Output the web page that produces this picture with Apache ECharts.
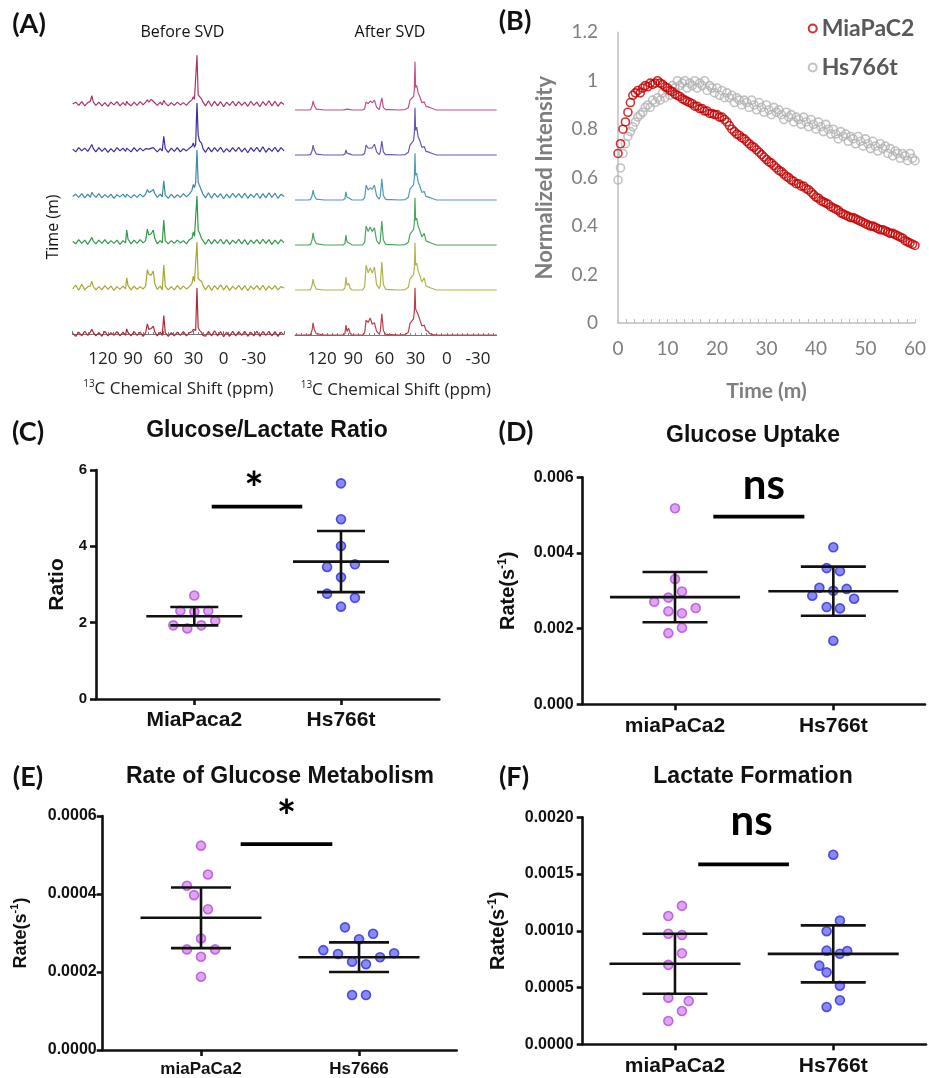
<!DOCTYPE html>
<html><head><meta charset="utf-8">
<script src="https://cdn.jsdelivr.net/npm/echarts@6/dist/echarts.min.js"></script>
<style>html,body{margin:0;padding:0;background:#fff}#c{width:929px;height:1078px}</style>
</head><body><div id="c"></div>
<script>
// ---------- Panel A: 13C spectra (intensity in % of trace spacing) ----------
const ppmBefore = [150,147,144,141,138,135,132.5,131,129.5,127,124,121,118,115,112,109,106,103,100,97.5,96.3,95,92,89,86,83,80,77.5,75.8,74.3,72,69.9,68.5,66,63,61,59.5,58,55,52,49,46,43,40,37,34,31.5,30.1,29,27.8,26.5,25.3,24,22,20.5,18,15,12,9,6,3,0,-3,-6,-9,-12,-15,-18,-21,-24,-27,-30,-33,-36,-39,-42,-45,-48,-51,-54,-57,-60];
const before1 = [0,4,-3,5,-4,3,6,18,4,-3, 4,-4,3,-5,4,-2,5,-4,3,-3, 6,1,-4,4,-3,5,-2,4,9,4, 10,6,9,-3,4,-2,8,2,-4,3, -3,4,-2,3,-3,5,9,16,10,14, 106,20,24,11,4,-4,7,-5,6,-4, 5,-6,4,-3,6,-4,5,-3,4,-5, 6,-3,4,-6,5,-3,7,-4,6,-5, 4,-1];
const before2 = [2,-4,5,-2,4,-3,6,12,3,-4, 5,-3,4,-5,3,-4,5,-2,4,-3, 4,2,-4,5,-3,4,-2,3,6,2, 4,5,2,-4,3,-2,30,3,-5,4, -3,5,-4,3,-2,4,8,15,6,12, 102,33,20,15,3,-5,6,-4,5,-3, 6,-5,3,-4,5,-3,6,-4,4,-6, 5,-3,6,-4,7,-5,4,-3,6,-4, 5,-2];
const before3 = [-1,4,-3,5,-4,4,-3,8,3,-3, 5,-4,3,-3,4,-5,3,-2,4,-3, 4,1,-4,3,-3,4,-2,4,14,8, 10,14,6,-3,4,-2,33,2,-5,4, -4,3,-3,5,-2,4,12,25,18,28, 100,30,26,12,4,-4,7,-5,6,-3, 5,-6,4,-4,6,-3,5,-4,6,-5, 4,-3,6,-5,5,-4,7,-3,6,-5, 4,-1];
const before4 = [1,-4,5,-3,4,-5,4,10,2,-4, 4,-3,5,-4,3,-3,4,-5,3,-2, 26,6,-4,4,-3,5,-2,3,28,15, 18,26,8,-4,3,-2,48,3,-4,3, -3,4,-2,3,-4,5,8,22,12,14, 100,25,20,8,3,-5,6,-4,5,-3, 6,-4,5,-5,4,-3,6,-4,5,-6, 4,-3,5,-4,6,-3,5,-5,4,-4, 5,-2];
const before5 = [-2,6,-5,8,-4,3,4,15,3,-4, 3,-4,5,-3,4,-5,3,-3,4,-2, 22,5,-4,4,-3,3,-2,4,40,30, 28,37,10,-3,4,-4,50,4,-4,3, -4,5,-3,4,-2,3,10,26,14,18, 100,20,22,14,6,-4,6,-5,5,-3, 7,-4,5,-5,4,-3,6,-4,5,-6, 4,-3,5,-4,6,-5,4,-3,5,-4, 3,0];
const before6 = [2,-5,4,-4,6,-3,4,10,4,-4, 3,-5,6,-4,3,-3,5,-4,4,-3, 11,3,-4,5,-3,4,-5,3,22,10, 12,17,5,-4,4,-3,40,3,-5,3, -4,4,-3,5,-4,3,5,10,6,8, 100,14,8,4,-3,-5,6,-4,7,-4, 5,-6,4,-5,6,-4,5,-3,6,-5, 4,-4,6,-5,5,-3,6,-4,5,-5, 4,-2];

const ppmAfter = [146,134,131,129.5,128.6,127.5,125.5,118,100,98,97,96,94.5,93,91,81,79,77.6,75.6,73.7,71.7,69.6,67.5,65,64,62.5,61,59,57,55.5,54,45,40,37,35.4,33.5,32,31.2,30.6,30,29,27.5,25.8,24,21.7,20,17.9,16.5,14.6,13,10,-48];
const after1 = [0,0,1,9,20,10,2,0,0,1, 4,2,3,1,0,0,3,18,14,20, 16,22,6,1,5,27,6,1,1,3, 1,0,1,5,22,18,30,45,107,50, 55,38,29,16,18,8,7,3,4,1, 0,0];
const after2 = [0,0,1,10,22,11,2,0,0,2, 11,4,6,2,0,0,4,22,15,18, 16,24,7,1,6,31,7,1,1,3, 1,0,1,6,22,19,32,48,105,55, 62,40,31,17,19,8,7,3,4,1, 0,0];
const after3 = [0,0,1,10,22,10,2,0,0,3, 18,6,8,3,0,0,5,33,22,27, 24,33,9,2,8,47,10,2,1,4, 1,0,1,6,24,20,34,50,104,55, 60,40,30,17,19,8,7,3,4,1, 0,0];
const after4 = [0,0,1,12,27,12,3,0,0,3, 22,7,9,3,0,0,6,42,30,40, 30,38,10,2,9,53,11,2,1,4, 1,0,1,6,24,20,34,50,105,55, 60,42,31,18,26,9,7,3,4,1, 0,0];
const after5 = [0,0,1,11,24,11,2,0,0,4, 29,10,15,4,0,0,7,55,38,49, 38,51,12,3,10,62,12,2,1,5, 1,0,1,6,24,20,34,50,105,55, 60,42,31,18,27,9,7,3,4,1, 0,0];
const after6 = [0,0,1,12,27,12,3,0,0,3, 22,8,15,4,0,0,5,33,28,38, 24,27,8,2,8,47,10,2,1,4, 1,0,1,6,26,22,36,52,105,58, 60,45,33,20,22,10,8,3,4,1, 0,0];
const ppmLabels = [120,90,60,30,0,-30];

// ---------- Panel B: normalized intensity vs time ----------
const timeMin = [0,0.5,1,1.5,2,2.5,3,3.5,4,4.5,5,5.5,6,6.5,7,7.5,8,8.5,9,9.5,10,10.5,11,11.5,12,12.5,13,13.5,14,14.5,15,15.5,16,16.5,17,17.5,18,18.5,19,19.5,20,20.5,21,21.5,22,22.5,23,23.5,24,24.5,25,25.5,26,26.5,27,27.5,28,28.5,29,29.5,30,30.5,31,31.5,32,32.5,33,33.5,34,34.5,35,35.5,36,36.5,37,37.5,38,38.5,39,39.5,40,40.5,41,41.5,42,42.5,43,43.5,44,44.5,45,45.5,46,46.5,47,47.5,48,48.5,49,49.5,50,50.5,51,51.5,52,52.5,53,53.5,54,54.5,55,55.5,56,56.5,57,57.5,58,58.5,59,59.5,60];
const miaIntensity = [0.70,0.74,0.80,0.83,0.87,0.91,0.94,0.95,0.96,0.95, 0.97,0.98,0.975,0.99,0.985,0.99,1.0,0.99,0.985,0.975, 0.97,0.96,0.955,0.945,0.94,0.935,0.925,0.92,0.915,0.91, 0.905,0.895,0.895,0.885,0.885,0.875,0.875,0.865,0.865,0.86, 0.86,0.85,0.85,0.84,0.83,0.815,0.80,0.79,0.78,0.775, 0.765,0.76,0.75,0.74,0.73,0.725,0.715,0.705,0.695,0.685, 0.675,0.665,0.66,0.65,0.64,0.63,0.625,0.615,0.605,0.60, 0.59,0.585,0.575,0.575,0.565,0.565,0.555,0.55,0.54,0.53, 0.52,0.515,0.505,0.50,0.495,0.49,0.48,0.475,0.47,0.465, 0.455,0.45,0.445,0.44,0.435,0.435,0.43,0.425,0.42,0.415, 0.41,0.405,0.40,0.40,0.395,0.39,0.385,0.385,0.38,0.375, 0.37,0.37,0.365,0.36,0.355,0.35,0.34,0.335,0.33,0.325, 0.32];
const hsIntensity = [0.59,0.64,0.70,0.74,0.77,0.79,0.81,0.83,0.85,0.86, 0.87,0.89,0.90,0.89,0.92,0.91,0.93,0.92,0.95,0.93, 0.96,0.94,0.98,0.97,1.0,0.98,0.99,1.0,0.97,0.99, 0.98,1.0,0.97,0.99,0.98,1.0,0.96,0.98,0.97,0.95, 0.97,0.94,0.96,0.93,0.95,0.93,0.94,0.91,0.93,0.92, 0.90,0.92,0.91,0.89,0.92,0.90,0.88,0.91,0.89,0.87, 0.90,0.88,0.86,0.89,0.87,0.88,0.86,0.84,0.87,0.85, 0.86,0.83,0.85,0.84,0.82,0.85,0.83,0.81,0.84,0.82, 0.80,0.83,0.81,0.79,0.82,0.80,0.78,0.80,0.78,0.76, 0.79,0.77,0.78,0.75,0.77,0.76,0.74,0.77,0.75,0.73, 0.76,0.74,0.72,0.75,0.73,0.71,0.74,0.72,0.73,0.70, 0.72,0.69,0.71,0.70,0.68,0.70,0.69,0.67,0.70,0.68, 0.67];

// ---------- Panels C-F: dot plots [group position, value] ----------
const catC = ['MiaPaca2','Hs766t'];
const catD = ['miaPaCa2','Hs766t'];
const catE = ['miaPaCa2','Hs7666'];
const catF = ['miaPaCa2','Hs766t'];
const ratioMia = [[1,2.71],[0.905,2.31],[1,2.29],[1.095,2.31],[0.857,1.93],[0.952,1.85],[1.048,1.93],[1.143,2.05]];
const ratioHs = [[2,5.65],[2,4.71],[2,4.01],[1.905,3.46],[2.095,3.53],[2,3.19],[1.905,2.76],[2.095,2.65],[2,2.42]];
const uptakeMia = [[1,0.00518],[1,0.00331],[1.044,0.00298],[0.869,0.00271],[0.958,0.00282],[1.131,0.002545],[0.958,0.00246],[1.044,0.002405],[1.044,0.002025],[0.958,0.00188]];
const uptakeHs = [[2,0.00415],[1.958,0.0036],[2.042,0.00352],[1.912,0.00308],[2,0.003],[2.084,0.00305],[1.867,0.00287],[2.131,0.00279],[1.958,0.00257],[2.042,0.002535],[2,0.00168]];
const metabMia = [[1,0.000524],[1.044,0.00045],[0.911,0.000421],[0.956,0.000397],[1.044,0.000361],[1,0.000286],[0.911,0.000258],[1.089,0.000258],[1,0.000239],[1,0.000188]];
const metabHs = [[1.911,0.0003145],[2.089,0.000298],[2,0.000284],[1.774,0.000256],[1.867,0.000246],[2.222,0.000248],[2.133,0.000238],[1.956,0.0002265],[2.044,0.00022],[1.956,0.000141],[2.044,0.000141]];
const lactMia = [[1.044,0.00122],[0.958,0.00113],[0.958,0.000974],[1.044,0.000963],[1.044,0.000802],[0.958,0.0007],[0.958,0.000411],[1.087,0.000381],[1.044,0.000293],[0.958,0.000205]];
const lactHs = [[2,0.00167],[2.042,0.00109],[1.958,0.000996],[1.958,0.000825],[2.042,0.000798],[2.088,0.000822],[1.912,0.000693],[1.958,0.000634],[2.042,0.000516],[2.042,0.000388],[1.958,0.000329]];
// [group, mean, sd]
const ratioStats = [[1,2.17,0.24],[2,3.60,0.80]];
const uptakeStats = [[1,0.002832,0.000665],[2,0.00299,0.000648]];
const metabStats = [[1,0.000339,0.0000778],[2,0.000238,0.000038]];
const lactStats = [[1,0.00071,0.000264],[2,0.000797,0.000251]];
// significance bars [x from, x to, y]
const sigC = [[1.119,1.736,5.04]], sigD = [[1.242,1.817,0.004958]], sigE = [[1.251,1.831,0.000528]], sigF = [[1.147,1.72,0.001586]];

// ---------- build ----------
const ARIAL = '"Liberation Sans", Arial, sans-serif';
const chart = echarts.init(document.getElementById('c'), null, {renderer:'canvas'});
const beforeSet = [before1,before2,before3,before4,before5,before6];
const afterSet = [after1,after2,after3,after4,after5,after6];
const beforeColors = ['#a8336b','#3b2f9c','#3a8ba5','#2e9a45','#a7a632','#b02a3c'];
const afterColors = ['#c0508a','#6a58b0','#4d9cb3','#4aa560','#b4b44a','#b8404e'];
const series = [];
beforeSet.forEach((arr,k)=>{
  series.push({type:'line', xAxisIndex:0, yAxisIndex:0, showSymbol:false, silent:true,
    lineStyle:{width:1.2, color:beforeColors[k]}, z:2+k,
    data: ppmBefore.map((p,i)=>[p, arr[i] + (5-k)*100])});
});
afterSet.forEach((arr,k)=>{
  series.push({type:'line', xAxisIndex:1, yAxisIndex:1, showSymbol:false, silent:true,
    lineStyle:{width:1.2, color:afterColors[k]}, z:2+k,
    data: ppmAfter.map((p,i)=>[p, arr[i] + (5-k)*100])});
});
series.push({name:'MiaPaC2', type:'scatter', xAxisIndex:2, yAxisIndex:2, symbol:'circle', symbolSize:8,
  itemStyle:{color:'rgba(255,255,255,0)', borderColor:'#c00000', borderWidth:1.6}, z:4,
  data: timeMin.map((t,i)=>[t, miaIntensity[i]])});
series.push({name:'Hs766t', type:'scatter', xAxisIndex:2, yAxisIndex:2, symbol:'circle', symbolSize:8,
  itemStyle:{color:'rgba(255,255,255,0)', borderColor:'#b3b3b3', borderWidth:1.6}, z:3,
  data: timeMin.map((t,i)=>[t, hsIntensity[i]])});

function errRender(halfMean, halfCap){
  return function(params, api){
    const x = api.value(0), m = api.value(1), s = api.value(2);
    const pm = api.coord([x,m]), pu = api.coord([x,m+s]), pl = api.coord([x,m-s]);
    const st = {stroke:'#111', lineWidth:2.6};
    return {type:'group', children:[
      {type:'line', shape:{x1:pm[0]-halfMean,y1:pm[1],x2:pm[0]+halfMean,y2:pm[1]}, style:st},
      {type:'line', shape:{x1:pu[0]-halfCap,y1:pu[1],x2:pu[0]+halfCap,y2:pu[1]}, style:st},
      {type:'line', shape:{x1:pl[0]-halfCap,y1:pl[1],x2:pl[0]+halfCap,y2:pl[1]}, style:st},
      {type:'line', shape:{x1:pu[0],y1:pu[1],x2:pl[0],y2:pl[1]}, style:st}
    ]};
  };
}
function sigRender(text, font, dx, dy, lw){
  return function(params, api){
    const y = api.value(2);
    const p1 = api.coord([api.value(0), y]), p2 = api.coord([api.value(1), y]);
    return {type:'group', children:[
      {type:'line', shape:{x1:p1[0],y1:p1[1],x2:p2[0],y2:p2[1]}, style:{stroke:'#000', lineWidth:lw}},
      {type:'text', x:(p1[0]+p2[0])/2+dx, y:p1[1]-dy, style:{text:text, font:font, fill:'#000',
        textAlign:'center', textVerticalAlign:'middle', align:'center', verticalAlign:'middle'}}
    ]};
  };
}
const miaDot = {color:'#d98cf0', borderColor:'#b04fd8', borderWidth:1.6};
const hsDot = {color:'#6b6bf5', borderColor:'#2f2fd8', borderWidth:1.6};
const dotPanels = [
  {ax:3, mia:ratioMia, hs:ratioHs, stats:ratioStats, hm:48, hc:24, sig:sigC, txt:'*', font:'bold 46px Lato', dx:-3, dy:16},
  {ax:4, mia:uptakeMia, hs:uptakeHs, stats:uptakeStats, hm:65, hc:32.5, sig:sigD, txt:'ns', font:'bold 42px Lato', dx:5, dy:31},
  {ax:5, mia:metabMia, hs:metabHs, stats:metabStats, hm:60.5, hc:30, sig:sigE, txt:'*', font:'bold 46px Lato', dx:0, dy:26},
  {ax:6, mia:lactMia, hs:lactHs, stats:lactStats, hm:65.5, hc:32.5, sig:sigF, txt:'ns', font:'bold 42px Lato', dx:8, dy:43}
];
dotPanels.forEach(p=>{
  series.push({type:'scatter', xAxisIndex:p.ax, yAxisIndex:p.ax, symbol:'circle', symbolSize:9, itemStyle:miaDot, z:3, data:p.mia});
  series.push({type:'scatter', xAxisIndex:p.ax, yAxisIndex:p.ax, symbol:'circle', symbolSize:9, itemStyle:hsDot, z:3, data:p.hs});
  series.push({type:'custom', xAxisIndex:p.ax, yAxisIndex:p.ax, renderItem:errRender(p.hm,p.hc), z:6, silent:true,
    encode:{x:0, y:1}, data:p.stats});
  series.push({type:'custom', xAxisIndex:p.ax, yAxisIndex:p.ax, renderItem:sigRender(p.txt,p.font,p.dx,p.dy,3.8), z:6, silent:true,
    encode:{x:[0,1], y:2}, data:p.sig});
});

const grids = [
  {left:72.7, top:53.4, width:211.3, height:289.8},
  {left:295, top:60.5, width:201.7, height:283.5},
  {left:618, top:32.3, width:297, height:290.7},
  {left:96, top:470, width:343.3, height:229},
  {left:582.7, top:477.3, width:342.3, height:227},
  {left:102.7, top:816, width:354, height:234},
  {left:582.7, top:817.3, width:343.3, height:227}
].map(g=>Object.assign({outerBoundsMode:'none', containLabel:false}, g));

const specName = {
  name:'{s|13}C Chemical Shift (ppm)', nameLocation:'middle', nameGap:36,
  nameTextStyle:{fontFamily:'Open Sans', fontSize:17, color:'#222', lineHeight:20,
    rich:{s:{fontFamily:'Open Sans', fontSize:10, color:'#222', verticalAlign:'top', lineHeight:20}}}
};
const specLabel = {fontFamily:'Open Sans', fontSize:17, color:'#222', margin:7};
const xAxes = [
  Object.assign({gridIndex:0, type:'value', inverse:true, min:-60, max:150, interval:30,
    axisLine:{lineStyle:{color:'#777', width:1}}, axisTick:{inside:true, length:3, lineStyle:{color:'#777'}},
    minorTick:{show:true, splitNumber:6, length:2, lineStyle:{color:'#888'}},
    axisLabel:Object.assign({showMinLabel:false, showMaxLabel:false}, specLabel), splitLine:{show:false}}, specName),
  Object.assign({gridIndex:1, type:'value', inverse:true, min:-48, max:146,
    axisLine:{lineStyle:{color:'#777', width:1}},
    axisTick:{inside:true, length:2, lineStyle:{color:'#888'}, customValues:[145,140,135,130,125,120,115,110,105,100,95,90,85,80,75,70,65,60,55,50,45,40,35,30,25,20,15,10,5,0,-5,-10,-15,-20,-25,-30,-35,-40,-45]},
    axisLabel:Object.assign({customValues:ppmLabels}, specLabel), splitLine:{show:false}}, specName),
  {gridIndex:2, type:'value', min:0, max:60, interval:10,
    axisLine:{lineStyle:{color:'#bfbfbf', width:1.5}}, axisTick:{inside:true, length:4, lineStyle:{color:'#bfbfbf'}},
    minorTick:{show:true, splitNumber:6, length:4, lineStyle:{color:'#bfbfbf'}},
    axisLabel:{fontFamily:'Lato', fontSize:19, color:'#7f7f7f', margin:16}, splitLine:{show:false},
    name:'Time (m)', nameLocation:'middle', nameGap:58,
    nameTextStyle:{fontFamily:'Lato', fontWeight:'bold', fontSize:21, color:'#7f7f7f'}}
];
const catAxis = (gi, min, max, cats, fs) => ({gridIndex:gi, type:'value', min:min, max:max,
  axisLine:{lineStyle:{color:'#111', width:2.6}},
  axisTick:{show:true, length:6, lineStyle:{color:'#111', width:2.6}, customValues:[1,2]},
  axisLabel:{customValues:[1,2], formatter:v=>cats[Math.round(v)-1], fontFamily:ARIAL, fontWeight:'bold', fontSize:fs, color:'#111', margin:11},
  splitLine:{show:false}});
xAxes.push(catAxis(3, 0.33, 2.67, catC, 21));
xAxes.push(catAxis(4, 0.417, 2.579, catD, 21));
xAxes.push(catAxis(5, 0.378, 2.618, catE, 17));
xAxes.push(catAxis(6, 0.417, 2.586, catF, 21));

const rateName = (fs) => ({name:'{n|Rate(s}{s|-1}{n|)}', nameLocation:'middle', nameRotate:90,
  nameTextStyle:{rich:{n:{fontFamily:ARIAL, fontWeight:'bold', fontSize:fs, color:'#111', lineHeight:fs+4},
    s:{fontFamily:ARIAL, fontWeight:'bold', fontSize:Math.round(fs*0.6), color:'#111', verticalAlign:'top', lineHeight:fs+4}}}});
const valAxis = (gi, max, interval, dec, margin, fs, extra) => Object.assign({gridIndex:gi, type:'value', min:0, max:max, interval:interval,
  axisLine:{show:true, lineStyle:{color:'#111', width:2.6}},
  axisTick:{show:true, length:6, lineStyle:{color:'#111', width:2.6}},
  axisLabel:{formatter:v=>v.toFixed(dec), fontFamily:ARIAL, fontWeight:'bold', fontSize:fs, color:'#111', margin:margin},
  splitLine:{show:false}}, extra);
const yAxes = [
  {gridIndex:0, type:'value', min:-20, max:610, show:false},
  {gridIndex:1, type:'value', min:-20, max:610, show:false},
  {gridIndex:2, type:'value', min:0, max:1.2, interval:0.2,
    axisLine:{show:true, lineStyle:{color:'#bfbfbf', width:1.5}}, axisTick:{show:false},
    axisLabel:{fontFamily:'Lato', fontSize:19, color:'#7f7f7f', margin:20}, splitLine:{show:false},
    name:'Normalized Intensity', nameLocation:'middle', nameGap:62, nameRotate:90,
    nameTextStyle:{fontFamily:'Lato', fontWeight:'bold', fontSize:22, color:'#7f7f7f'}},
  valAxis(3, 6, 2, 0, 9, 15, {name:'Ratio', nameLocation:'middle', nameGap:28, nameRotate:90,
    nameTextStyle:{fontFamily:ARIAL, fontWeight:'bold', fontSize:21, color:'#111'}}),
  valAxis(4, 0.006, 0.002, 3, 9, 16, Object.assign(rateName(20), {nameGap:62})),
  valAxis(5, 0.0006, 0.0002, 4, 6, 16, Object.assign(rateName(18), {nameGap:71})),
  valAxis(6, 0.002, 0.0005, 4, 9, 16, Object.assign(rateName(20), {nameGap:72}))
];

const T = (text, x, y, font, opts) => Object.assign({type:'text', x:x, y:y, silent:true,
  style:{text:text, font:font, fill:'#111', textAlign:'center', textVerticalAlign:'middle', align:'center', verticalAlign:'middle'}}, opts||{});
const panelFont = 'bold 27px Lato';
const titleFont = 'bold 23px ' + ARIAL;
const graphic = [
  T('(A)', 29, 24, panelFont), T('(B)', 515, 21, panelFont), T('(C)', 28, 432, panelFont),
  T('(D)', 516, 432, panelFont), T('(E)', 28, 777, panelFont), T('(F)', 514, 777, panelFont),
  T('Before SVD', 182.5, 32, '16px "Open Sans"'), T('After SVD', 390, 32, '16px "Open Sans"'),
  T('Time (m)', 53, 227, '16px "Open Sans"', {rotation:Math.PI/2}),
  T('Glucose/Lactate Ratio', 267, 431, titleFont), T('Glucose Uptake', 753, 436, titleFont),
  T('Rate of Glucose Metabolism', 280, 777, titleFont), T('Lactate Formation', 753, 777, titleFont)
];

chart.setOption({
  backgroundColor:'#fff', animation:false,
  grid:grids, xAxis:xAxes, yAxis:yAxes, series:series, graphic:graphic,
  legend:{data:['MiaPaC2','Hs766t'], orient:'vertical', left:802.7, top:11, itemWidth:8, itemHeight:8, itemGap:14,
    icon:'circle', selectedMode:false,
    textStyle:{fontFamily:'Lato', fontWeight:'bold', fontSize:23, color:'#595959', lineHeight:25}}
});
</script></body></html>
